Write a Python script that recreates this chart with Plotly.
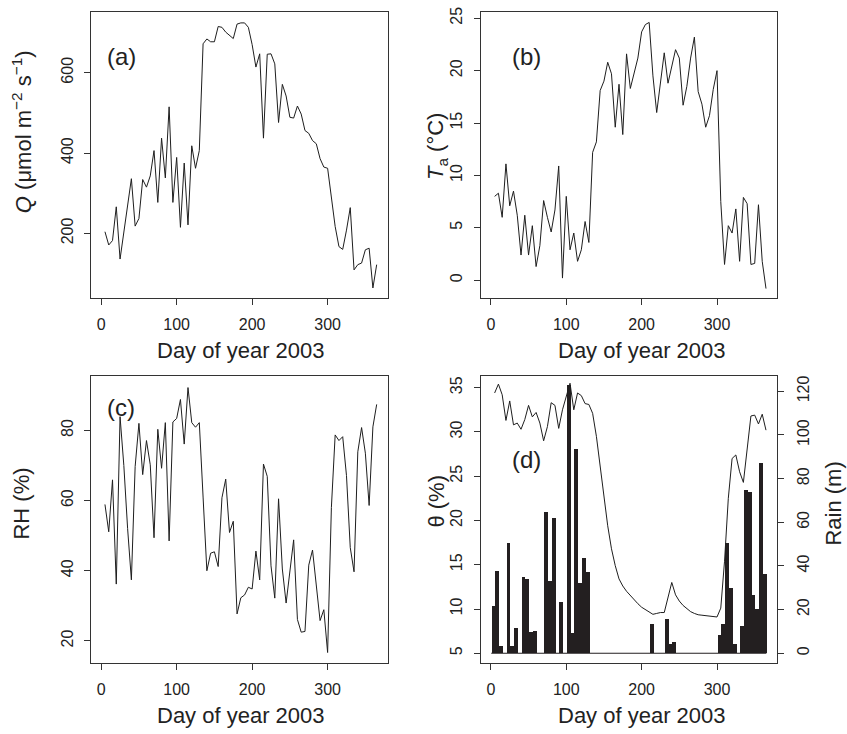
import plotly.graph_objects as go

W, H = 847, 734

days = list(range(5, 366, 5))
rain_days = list(range(3, 364, 5))

Q = [204, 171, 182, 266, 136, 203, 270, 336, 218, 237, 334, 315, 343, 406, 277, 437, 338, 515, 277, 389,
     215, 375, 221, 418, 362, 406, 672, 684, 677, 677, 715, 713, 701, 692, 685, 721, 724, 724, 713, 670,
     614, 647, 437, 646, 647, 622, 476, 571, 542, 489, 487, 517, 497, 456, 449, 431, 423, 386, 365, 362,
     282, 217, 167, 160, 208, 264, 109, 122, 126, 159, 163, 64, 122]

Ta = [8.0, 8.3, 6.0, 11.1, 7.1, 8.5, 6.2, 2.4, 6.2, 2.4, 5.2, 1.3, 3.3, 7.6, 6.0, 4.6, 6.7, 10.9, 0.2, 8.0,
      2.9, 4.5, 1.8, 2.9, 5.6, 3.6, 12.2, 13.2, 18.1, 19.0, 20.8, 19.7, 14.6, 18.7, 13.9, 21.6, 18.3, 19.8, 21.2, 23.7,
      24.4, 24.6, 19.5, 16.0, 18.8, 21.7, 18.8, 20.3, 22.0, 21.2, 16.7, 18.5, 21.2, 23.2, 18.0, 16.8, 14.6, 15.7, 18.2, 20.0,
      7.5, 1.5, 5.2, 4.5, 6.8, 1.8, 7.9, 7.3, 1.5, 1.6, 7.2, 1.8, -0.8]

RH = [58.9, 51.1, 65.9, 36.2, 83.9, 70.0, 52.0, 37.4, 69.7, 82.0, 67.4, 77.1, 70.2, 49.4, 80.3, 69.2, 82.2, 48.5, 82.4, 83.4,
      88.8, 76.1, 92.2, 82.2, 80.9, 82.2, 61.0, 40.0, 45.0, 45.4, 41.2, 60.8, 66.1, 50.9, 54.1, 27.7, 32.3, 33.1, 35.3, 34.8,
      45.6, 37.4, 70.4, 66.9, 41.4, 32.2, 60.5, 40.5, 30.8, 40.0, 48.8, 26.1, 22.5, 22.7, 41.6, 45.9, 35.7, 25.8, 28.9, 16.7,
      58.0, 78.7, 77.1, 78.2, 67.1, 46.6, 39.7, 73.9, 80.8, 73.5, 58.6, 81.0, 87.4]

theta = [34.4, 35.4, 34.2, 31.3, 33.5, 30.8, 31.0, 30.3, 31.4, 33.0, 31.7, 32.2, 31.0, 29.0, 30.6, 33.3, 33.0, 30.4, 32.5, 34.1,
         35.5, 32.5, 34.4, 34.1, 33.2, 33.1, 32.1, 29.5, 26.1, 22.7, 19.4, 16.8, 14.9, 13.4, 12.6, 12.0, 11.5, 11.0, 10.6, 10.2,
         9.9, 9.6, 9.4, 9.5, 9.6, 9.6, 11.2, 13.0, 11.6, 10.9, 10.4, 10.0, 9.7, 9.5, 9.35, 9.3, 9.25, 9.2, 9.15, 9.1,
         10.1, 15.4, 22.5, 27.0, 27.4, 25.5, 24.3, 27.9, 31.8, 31.9, 30.9, 32.0, 30.2]

rain = [21.4, 37.5, 3.2, 0, 50.4, 3.2, 11.6, 0, 34.8, 34.0, 9.7, 10.2, 0, 0, 64.8, 32.9, 61.8, 0, 23.4, 0,
        122.7, 9.4, 93.6, 32.0, 43.5, 37.0, 0, 0, 0, 0, 0, 0, 0, 0, 0, 0, 0, 0, 0, 0,
        0, 0, 13.5, 0, 0, 0, 15.8, 4.4, 5.2, 0, 0, 0, 0, 0, 0, 0, 0, 0, 0, 0,
        8.5, 13.5, 50.4, 29.8, 4.4, 0, 12.5, 74.9, 73.7, 26.4, 20.3, 87.1, 36.3]

x_ticks = [0, 100, 200, 300]
q_ticks = [200, 400, 600]
ta_ticks = [0, 5, 10, 15, 20, 25]
rh_ticks = [20, 40, 60, 80]
theta_ticks = [5, 10, 15, 20, 25, 30, 35]
rain_ticks = [0, 20, 40, 60, 80, 100, 120]

FONT = "Liberation Sans, Arial, Helvetica, sans-serif"
INK = "#222222"
LINE = "#1e1e1e"
BAR = "#231f20"

fig = go.Figure()

line_style = dict(color=LINE, width=1)
fig.add_trace(go.Scatter(x=days, y=Q, mode="lines", line=line_style, xaxis="x", yaxis="y"))
fig.add_trace(go.Scatter(x=days, y=Ta, mode="lines", line=line_style, xaxis="x2", yaxis="y2"))
fig.add_trace(go.Scatter(x=days, y=RH, mode="lines", line=line_style, xaxis="x3", yaxis="y3"))
fig.add_trace(go.Bar(x=rain_days, y=rain, width=5, marker=dict(color=BAR, line=dict(width=0)),
                     xaxis="x4", yaxis="y4"))
fig.add_trace(go.Scatter(x=[rain_days[0] - 2.5, rain_days[-1] + 2.5], y=[0, 0], mode="lines",
                         line=dict(color=BAR, width=1.2), xaxis="x4", yaxis="y4"))
fig.add_trace(go.Scatter(x=days, y=theta, mode="lines", line=line_style, xaxis="x4", yaxis="y5"))

def px_dom_x(a, b):
    return [a / W, b / W]

def px_dom_y(top, bottom):
    return [1 - bottom / H, 1 - top / H]

xd_left = px_dom_x(91, 388)
xd_right = px_dom_x(480.7, 777.3)
yd_top = px_dom_y(6.7, 295)
yd_bot = px_dom_y(373.7, 662.7)

xr = [-13.5, 380]

common = dict(showline=True, linecolor="#333333", linewidth=1, mirror=True, ticks="outside",
              ticklen=6, tickwidth=1, tickcolor="#333333", showgrid=False, zeroline=False,
              tickfont=dict(family=FONT, size=16, color=INK))

def xax(domain, anchor):
    return dict(common, domain=domain, anchor=anchor, range=xr, tickvals=x_ticks,
                ticklabelstandoff=6)

def yax(domain, anchor, rng, tv):
    return dict(common, domain=domain, anchor=anchor, range=rng, tickvals=tv, tickangle=-90,
                ticklabelstandoff=5)

layout = dict(
    width=W, height=H, margin=dict(l=0, r=0, t=0, b=0),
    paper_bgcolor="white", plot_bgcolor="white", showlegend=False,
    font=dict(family=FONT, color=INK),
    xaxis=xax(xd_left, "y"),
    yaxis=yax(yd_top, "x", [39, 752], q_ticks),
    xaxis2=xax(xd_right, "y2"),
    yaxis2=yax(yd_top, "x2", [-1.7, 25.63], ta_ticks),
    xaxis3=xax(xd_left, "y3"),
    yaxis3=yax(yd_bot, "x3", [13.66, 95.45], rh_ticks),
    xaxis4=xax(xd_right, "y4"),
    yaxis4=dict(yax(yd_bot, "x4", [-4.55, 126.96], rain_ticks), side="right"),
    yaxis5=dict(yax(yd_bot, "x4", [3.88, 36.3], theta_ticks), side="left", overlaying="y4"),
    bargap=0,
)
fig.update_layout(**layout)

def ann(text, xpx, ypx, size, angle=0):
    return dict(text=text, x=xpx / W, y=1 - ypx / H, xref="paper", yref="paper",
                showarrow=False, textangle=angle, xanchor="center", yanchor="middle",
                font=dict(family=FONT, size=size, color=INK))

annotations = [
    ann("<i>Q</i> (μmol m<sup>−2</sup> s<sup>−1</sup>)", 22, 128, 22, -90),
    ann("<i>T</i><sub>a</sub> (°C)", 437, 143, 22, -90),
    ann("RH (%)", 22, 502, 22, -90),
    ann("θ (%)", 437, 500, 22, -90),
    ann("Rain (m)", 834, 502, 22, -90),
    ann("Day of year 2003", 241, 348, 22),
    ann("Day of year 2003", 642, 348, 22),
    ann("Day of year 2003", 241, 715, 22),
    ann("Day of year 2003", 642, 715, 22),
    ann("(a)", 121, 52, 24),
    ann("(b)", 526, 52, 24),
    ann("(c)", 121, 405, 24),
    ann("(d)", 526, 458, 24),
]
fig.update_layout(annotations=annotations)

fig.write_html("out.html")
